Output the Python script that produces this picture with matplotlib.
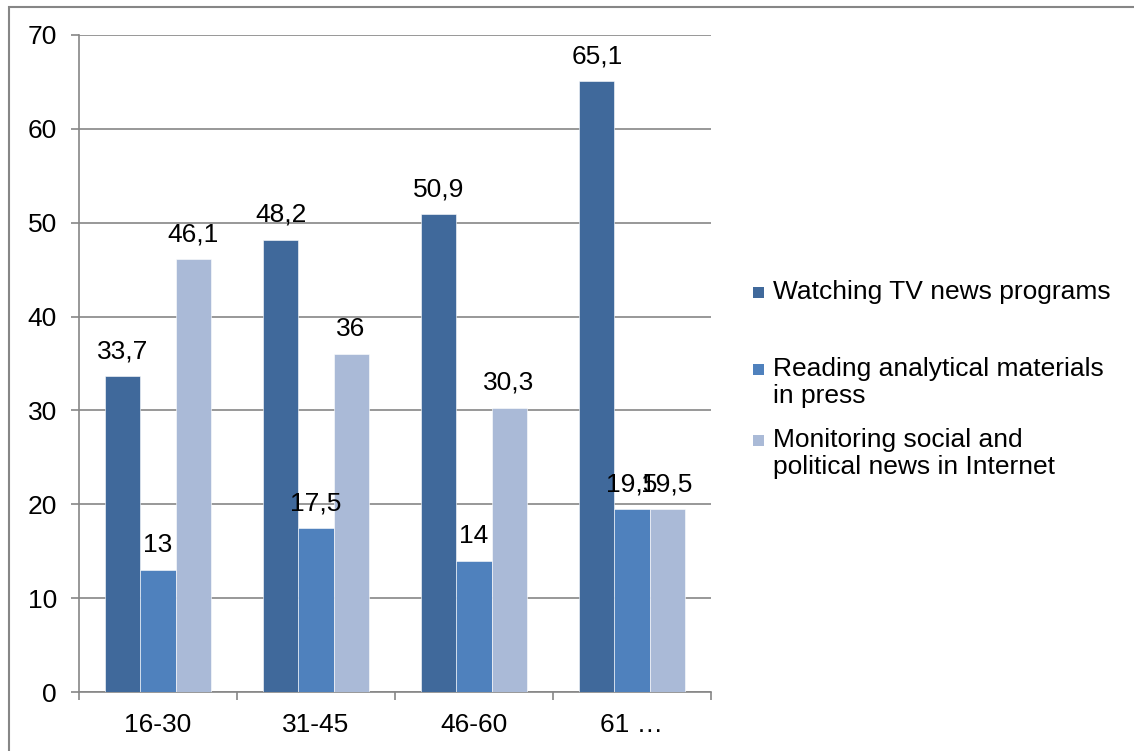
import numpy as np
import matplotlib
matplotlib.use('Agg')
import matplotlib.pyplot as plt
from matplotlib.patches import Rectangle

plt.rcParams['font.family'] = ['Liberation Sans', 'DejaVu Sans']

# Data
age_groups = ['16-30', '31-45', '46-60', '61 …']
series_names = ['Watching TV news programs',
                'Reading analytical materials\nin press',
                'Monitoring social and\npolitical news in Internet']
tv_news = [33.7, 48.2, 50.9, 65.1]
press = [13, 17.5, 14, 19.5]
internet = [46.1, 36, 30.3, 19.5]
colors = ['#40699B', '#4F81BD', '#AABAD7']

W, H = 1134, 751
fig = plt.figure(figsize=(W / 100, H / 100), dpi=100)
ax = fig.add_axes([79 / W, 1 - 692 / H, (711 - 79) / W, (692 - 35) / H])

grey = '#868686'
fs = 19
x = np.arange(len(age_groups))
bw = 0.222
for i, (vals, c) in enumerate(zip([tv_news, press, internet], colors)):
    pos = x + (i - 1) * bw
    ax.bar(pos, vals, width=bw, color=c, edgecolor='white', linewidth=0.4, zorder=3)
    for p, v in zip(pos, vals):
        ax.annotate(f'{v:g}'.replace('.', ','), (p, v), xytext=(0, 12.7),
                    textcoords='offset points', ha='center', va='baseline',
                    fontsize=fs, zorder=4)

ax.set_xlim(-0.5, 3.5)
ax.set_ylim(0, 70)
ax.set_yticks(range(0, 71, 10))
ax.yaxis.grid(True, color=grey, linewidth=1.2, zorder=0)
ax.set_axisbelow(True)

ax.set_xticks(x)
ax.set_xticklabels(age_groups, fontsize=fs)
ax.set_xticks(np.arange(-0.5, 4, 1), minor=True)
ax.tick_params(axis='x', which='major', length=0, pad=15)
ax.tick_params(axis='x', which='minor', length=5.8, width=1.2, color=grey)
ax.tick_params(axis='y', length=5.8, width=1.2, color=grey, pad=10, labelsize=fs)

for s in ['top', 'right']:
    ax.spines[s].set_visible(False)
for s in ['left', 'bottom']:
    ax.spines[s].set_color(grey)
    ax.spines[s].set_linewidth(1.2)

# Legend, drawn by hand so the marker sits on the first text line
legend_y = [299, 376, 447]  # baselines of first lines, px from top
line_gap = 27
for name, c, yb in zip(series_names, colors, legend_y):
    fig.patches.append(Rectangle((753 / W, 1 - (yb - 1) / H), 11 / W, 11 / H,
                                 transform=fig.transFigure, facecolor=c,
                                 edgecolor='none'))
    # multi-line text anchors on its last baseline
    last = yb + line_gap * name.count('\n')
    fig.text(773 / W, 1 - last / H, name, fontsize=fs, ha='left', va='baseline',
             linespacing=1.15)

# Outer chart border
fig.patches.append(Rectangle((8.5 / W, -0.05), 1.1, 1 - 6.5 / H + 0.05,
                             transform=fig.transFigure, fill=False,
                             edgecolor=grey, linewidth=1.5))

fig.savefig('out.png', dpi=100)
